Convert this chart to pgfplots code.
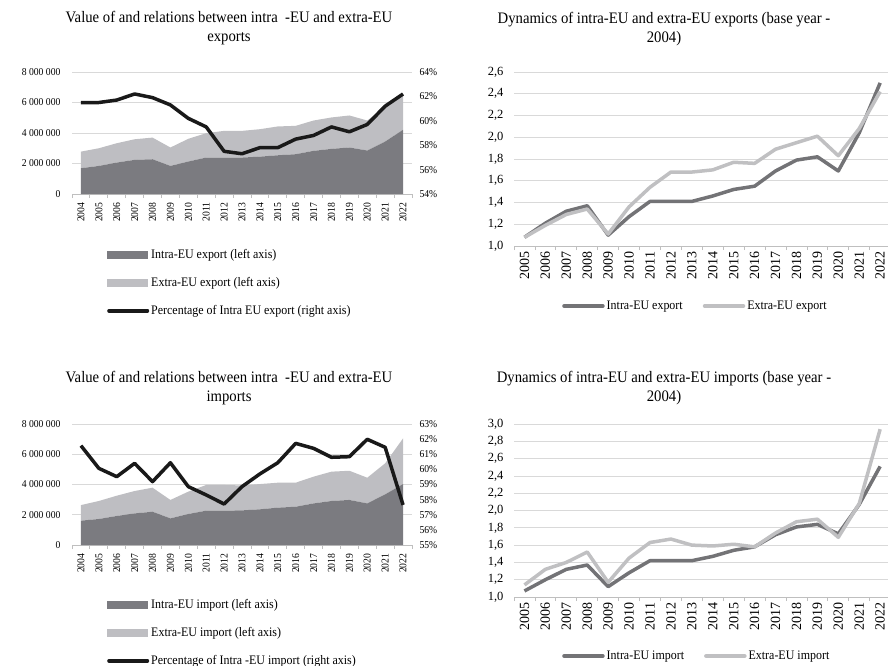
\documentclass[border=0pt]{standalone}
\usepackage{pgfplots}
\pgfplotsset{compat=1.18}
\usepackage{fontspec}
\setmainfont{Liberation Serif}[FakeStretch=0.92]
\newfontfamily\wide{Liberation Serif}
\definecolor{intraA}{RGB}{123,123,128}
\definecolor{extraA}{RGB}{190,190,194}
\definecolor{darkL}{RGB}{115,115,118}
\definecolor{lightL}{RGB}{192,192,194}
\definecolor{blackL}{RGB}{25,25,25}
\definecolor{gridc}{RGB}{217,217,217}
\definecolor{axisc}{RGB}{191,191,191}
\newcommand\fsz{\fontsize{10.5pt}{12pt}\selectfont}
\newcommand\lsz{\fontsize{13pt}{15pt}\selectfont}
\newcommand\rsz{\wide\fontsize{12.5pt}{14pt}\selectfont}
\newcommand\ysz{\wide\fontsize{14pt}{16pt}\selectfont}
\newcommand\tsz{\fontsize{16pt}{19pt}\selectfont}
\pgfplotsset{
  common/.style={
    scale only axis, anchor=south west, enlargelimits=false,
    ticklabel style={font=\fsz}, scaled y ticks=false,
  },
  leftA/.style={common, width=340pt, height=122pt, xmin=-0.5, xmax=18.5},
  rightA/.style={common, width=376.6pt, xmin=-0.5, xmax=17.5,
    yticklabel style={font=\rsz, xshift=-7pt},
    xticklabel style={font=\ysz},
    legend image code/.code={\draw[##1, line width=4pt, line cap=round] (1.5pt,0pt) -- (40pt,0pt);},
  },
  xstyle/.style={
    axis x line*=bottom, x axis line style={axisc, line width=0.8pt},
    major tick length=0pt, minor tick length=4pt,
    xtick align=outside,
    minor x tick style={axisc, line width=0.8pt},
    xticklabel style={rotate=90, anchor=east},
  },
  ystyle/.style={
    axis y line*=left, y axis line style={draw=none}, ytick style={draw=none},
    ymajorgrids, grid style={gridc, line width=0.8pt},
  },
  yrstyle/.style={
    axis x line=none, axis y line*=right, y axis line style={draw=none}, ytick style={draw=none},
    yticklabel style={xshift=4pt},
  },
  leg3/.style={
    legend style={at={(#1)}, anchor=north west, draw=none, fill=none, inner sep=0pt,
      row sep=13.5pt, font=\lsz, cells={anchor=west}},
  },
  leg2/.style={
    legend columns=2,
    legend style={at={(#1)}, anchor=west, draw=none, fill=none, inner sep=0pt,
      font=\lsz, cells={anchor=west}, /tikz/every even column/.append style={column sep=18pt}},
  },
}
\begin{document}
\begin{tikzpicture}
\path[use as bounding box] (0pt,0pt) rectangle (888pt,-665pt);

% ---------- Titles ----------
\node[align=center, font=\tsz] at (229pt,-28pt) {Value of and relations between intra~ -EU and extra-EU\\exports};
\node[align=center, font=\tsz] at (664pt,-29pt) {Dynamics of intra-EU and extra-EU exports (base year -\\2004)};
\node[align=center, font=\tsz] at (229pt,-388pt) {Value of and relations between intra~ -EU and extra-EU\\imports};
\node[align=center, font=\tsz] at (664pt,-388pt) {Dynamics of intra-EU and extra-EU imports (base year -\\2004)};

% ---------- Top-left: exports values ----------
\begin{axis}[leftA, xstyle, ystyle, at={(72pt,-194pt)},
  ymin=0, ymax=8000000, ytick={0,2000000,4000000,6000000,8000000},
  yticklabels={0,2 000 000,4 000 000,6 000 000,8 000 000},
  yticklabel style={xshift=-8pt},
  xtick={0,...,18}, minor xtick={-0.5,0.5,...,18.5},
  xticklabels={2004,2005,2006,2007,2008,2009,2010,2011,2012,2013,2014,2015,2016,2017,2018,2019,2020,2021,2022},
  xticklabel shift=5pt,
  stack plots=y]
\addplot[fill=intraA, draw=none] coordinates {(0,1690000)(1,1840000)(2,2060000)(3,2240000)(4,2280000)(5,1840000)(6,2130000)(7,2390000)(8,2390000)(9,2390000)(10,2450000)(11,2540000)(12,2610000)(13,2830000)(14,2960000)(15,3050000)(16,2850000)(17,3440000)(18,4210000)} \closedcycle;
\addplot[fill=extraA, draw=none] coordinates {(0,1090000)(1,1160000)(2,1270000)(3,1350000)(4,1420000)(5,1210000)(6,1490000)(7,1600000)(8,1750000)(9,1750000)(10,1800000)(11,1890000)(12,1860000)(13,1990000)(14,2060000)(15,2100000)(16,1970000)(17,2260000)(18,2300000)} \closedcycle;
\end{axis}
\begin{axis}[leftA, yrstyle, at={(72pt,-194pt)},
  ymin=54, ymax=64, ytick={54,56,58,60,62,64},
  yticklabels={54\%,56\%,58\%,60\%,62\%,64\%},
  leg3={0.103,-0.434}]
\addlegendimage{legend image code/.code={\fill[intraA] (0pt,-3.5pt) rectangle (40pt,3.5pt);}}
\addlegendentry{Intra-EU export (left axis)}
\addlegendimage{legend image code/.code={\fill[extraA] (0pt,-3.5pt) rectangle (40pt,3.5pt);}}
\addlegendentry{Extra-EU export (left axis)}
\addlegendimage{legend image code/.code={\draw[blackL, line width=3.5pt, line cap=round] (1.5pt,0pt) -- (40pt,0pt);}}
\addlegendentry{Percentage of Intra EU export (right axis)}
\addplot[blackL, line width=3.5pt, line join=round, forget plot] coordinates {(0,61.5)(1,61.5)(2,61.7)(3,62.2)(4,61.9)(5,61.3)(6,60.2)(7,59.5)(8,57.5)(9,57.3)(10,57.8)(11,57.8)(12,58.5)(13,58.8)(14,59.5)(15,59.1)(16,59.7)(17,61.2)(18,62.2)};
\end{axis}

% ---------- Bottom-left: imports values ----------
\begin{axis}[leftA, xstyle, ystyle, at={(72pt,-545pt)}, height=121pt,
  ymin=0, ymax=8000000, ytick={0,2000000,4000000,6000000,8000000},
  yticklabels={0,2 000 000,4 000 000,6 000 000,8 000 000},
  yticklabel style={xshift=-8pt},
  xtick={0,...,18}, minor xtick={-0.5,0.5,...,18.5},
  xticklabels={2004,2005,2006,2007,2008,2009,2010,2011,2012,2013,2014,2015,2016,2017,2018,2019,2020,2021,2022},
  xticklabel shift=5pt,
  stack plots=y]
\addplot[fill=intraA, draw=none] coordinates {(0,1610000)(1,1720000)(2,1920000)(3,2090000)(4,2200000)(5,1760000)(6,2050000)(7,2270000)(8,2270000)(9,2290000)(10,2360000)(11,2470000)(12,2530000)(13,2750000)(14,2910000)(15,2980000)(16,2750000)(17,3350000)(18,4030000)} \closedcycle;
\addplot[fill=extraA, draw=none] coordinates {(0,1030000)(1,1190000)(2,1340000)(3,1480000)(4,1590000)(5,1220000)(6,1480000)(7,1700000)(8,1700000)(9,1650000)(10,1670000)(11,1650000)(12,1590000)(13,1770000)(14,1940000)(15,1930000)(16,1700000)(17,2050000)(18,3020000)} \closedcycle;
\end{axis}
\begin{axis}[leftA, yrstyle, at={(72pt,-545pt)}, height=121pt,
  ymin=55, ymax=63, ytick={55,...,63},
  yticklabels={55\%,56\%,57\%,58\%,59\%,60\%,61\%,62\%,63\%},
  leg3={0.103,-0.43}]
\addlegendimage{legend image code/.code={\fill[intraA] (0pt,-3.5pt) rectangle (40pt,3.5pt);}}
\addlegendentry{Intra-EU import (left axis)}
\addlegendimage{legend image code/.code={\fill[extraA] (0pt,-3.5pt) rectangle (40pt,3.5pt);}}
\addlegendentry{Extra-EU import (left axis)}
\addlegendimage{legend image code/.code={\draw[blackL, line width=3.5pt, line cap=round] (1.5pt,0pt) -- (40pt,0pt);}}
\addlegendentry{Percentage of Intra -EU import (right axis)}
\addplot[blackL, line width=3.5pt, line join=round, forget plot] coordinates {(0,61.57)(1,60.07)(2,59.52)(3,60.4)(4,59.19)(5,60.44)(6,58.86)(7,58.31)(8,57.71)(9,58.86)(10,59.70)(11,60.44)(12,61.72)(13,61.39)(14,60.80)(15,60.84)(16,61.99)(17,61.46)(18,57.65)};
\end{axis}

% ---------- Top-right: exports dynamics ----------
\begin{axis}[rightA, xstyle, ystyle, at={(514pt,-246pt)}, height=174pt,
  ymin=1.0, ymax=2.6, ytick={1.0,1.2,1.4,1.6,1.8,2.0,2.2,2.4,2.6},
  yticklabels={{1,0},{1,2},{1,4},{1,6},{1,8},{2,0},{2,2},{2,4},{2,6}},
  xtick={0,...,17}, minor xtick={-0.5,0.5,...,17.5},
  xticklabels={2005,2006,2007,2008,2009,2010,2011,2012,2013,2014,2015,2016,2017,2018,2019,2020,2021,2022},
  xticklabel shift=2pt,
  leg2={0.1275,-0.345}]
\addplot[darkL, line width=3.5pt, line join=round] coordinates {(0,1.08)(1,1.21)(2,1.32)(3,1.37)(4,1.10)(5,1.27)(6,1.41)(7,1.41)(8,1.41)(9,1.46)(10,1.52)(11,1.55)(12,1.69)(13,1.79)(14,1.82)(15,1.69)(16,2.04)(17,2.50)};
\addlegendentry{Intra-EU export}
\addplot[lightL, line width=3.5pt, line join=round] coordinates {(0,1.08)(1,1.19)(2,1.29)(3,1.34)(4,1.11)(5,1.36)(6,1.54)(7,1.68)(8,1.68)(9,1.70)(10,1.77)(11,1.76)(12,1.89)(13,1.95)(14,2.01)(15,1.83)(16,2.08)(17,2.42)};
\addlegendentry{Extra-EU export}
\end{axis}

% ---------- Bottom-right: imports dynamics ----------
\begin{axis}[rightA, xstyle, ystyle, at={(514pt,-597pt)}, height=173pt,
  ymin=1.0, ymax=3.0, ytick={1.0,1.2,1.4,1.6,1.8,2.0,2.2,2.4,2.6,2.8,3.0},
  yticklabels={{1,0},{1,2},{1,4},{1,6},{1,8},{2,0},{2,2},{2,4},{2,6},{2,8},{3,0}},
  xtick={0,...,17}, minor xtick={-0.5,0.5,...,17.5},
  xticklabels={2005,2006,2007,2008,2009,2010,2011,2012,2013,2014,2015,2016,2017,2018,2019,2020,2021,2022},
  xticklabel shift=2pt,
  leg2={0.1275,-0.341}]
\addplot[darkL, line width=3.5pt, line join=round] coordinates {(0,1.07)(1,1.20)(2,1.32)(3,1.37)(4,1.12)(5,1.28)(6,1.42)(7,1.42)(8,1.42)(9,1.47)(10,1.54)(11,1.58)(12,1.72)(13,1.81)(14,1.84)(15,1.73)(16,2.07)(17,2.51)};
\addlegendentry{Intra-EU import}
\addplot[lightL, line width=3.5pt, line join=round] coordinates {(0,1.14)(1,1.32)(2,1.40)(3,1.52)(4,1.17)(5,1.45)(6,1.63)(7,1.67)(8,1.60)(9,1.59)(10,1.61)(11,1.58)(12,1.74)(13,1.87)(14,1.90)(15,1.69)(16,2.08)(17,2.94)};
\addlegendentry{Extra-EU import}
\end{axis}
\end{tikzpicture}
\end{document}
